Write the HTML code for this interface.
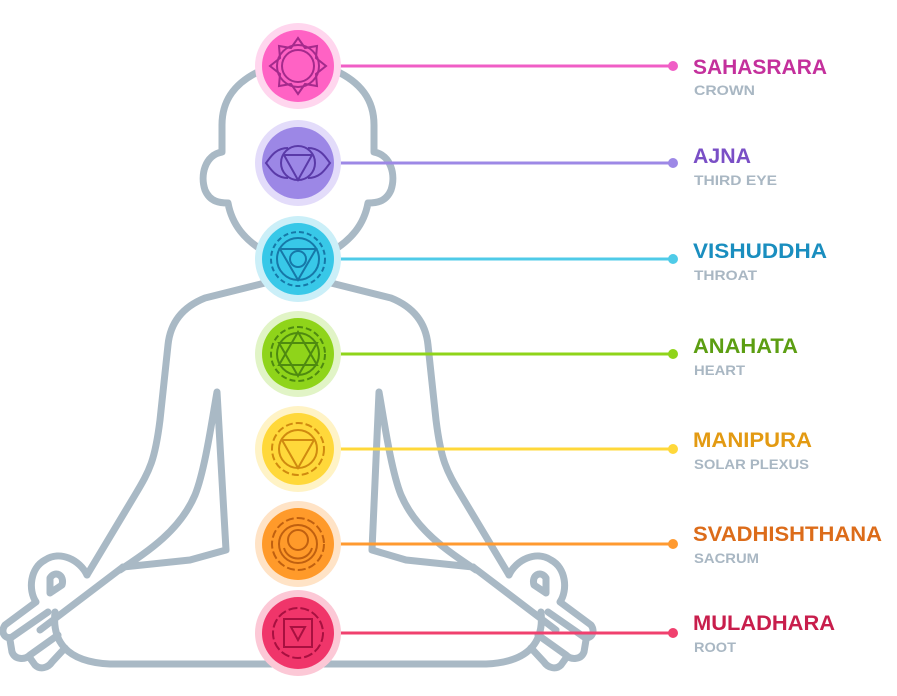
<!DOCTYPE html>
<html><head><meta charset="utf-8"><style>
html,body{margin:0;padding:0;background:#fff;width:897px;height:696px;overflow:hidden}
text{font-family:"Liberation Sans",sans-serif;font-weight:bold}
</style></head><body>
<svg width="897" height="696" viewBox="0 0 897 696" xmlns="http://www.w3.org/2000/svg">
<g fill="none" stroke="#a9b9c5" stroke-width="7" stroke-linecap="round" stroke-linejoin="round">
<path d="M262,70 C235,82 222,100 222,125 L222,152 C205,155 200,175 205,190 C210,202 220,203 228,203 C232,225 245,240 265,252"/>
<path d="M334,70 C361,82 374,100 374,125 L374,152 C391,155 396,175 391,190 C386,202 376,203 368,203 C364,225 351,240 331,252"/>
<path d="M265,283 L205,298 C180,308 170,325 168,345 L160,420 C155,460 150,470 135,495 L87,575"/>
<path d="M331,283 L391,298 C416,308 426,325 428,345 L436,420 C441,460 446,470 461,495 L509,575"/>
<path d="M217,392 L226,550 L190,560 L123,567 M217,392 C212,420 205,470 195,495 C180,530 150,550 120,570"/>
<path d="M379,392 L372,550 L406,560 L473,567 M379,392 C384,420 391,470 401,495 C416,530 446,550 476,570"/>
<path d="M123,567 L40,630 M55,612 C52,640 65,662 110,664 L486,664 C531,662 544,640 541,612 M473,567 L556,630"/>
<path d="M87,575 C80,560 60,550 45,560 C30,568 28,590 36,602 L5,625 C0,632 5,640 12,637 L48,612"/>
<path d="M10,640 L12,652 C15,660 25,660 30,655 L58,635 M30,658 L35,665 C40,670 48,668 52,662 L65,648"/>
<path d="M50,578 C55,570 65,575 62,585 L50,593 Z"/>
<path d="M509,575 C516,560 536,550 551,560 C566,568 568,590 560,602 L591,625 C596,632 591,640 584,637 L548,612"/>
<path d="M586,640 L584,652 C581,660 571,660 566,655 L538,635 M566,658 L561,665 C556,670 548,668 544,662 L531,648"/>
<path d="M546,578 C541,570 531,575 534,585 L546,593 Z"/>
</g>
<g stroke-width="3">
<line x1="298" y1="66" x2="673" y2="66" stroke="#f05ec6"/><circle cx="673" cy="66" r="5" fill="#f05ec6"/>
<line x1="298" y1="163" x2="673" y2="163" stroke="#9d88e6"/><circle cx="673" cy="163" r="5" fill="#9d88e6"/>
<line x1="298" y1="259" x2="673" y2="259" stroke="#4fcbe8"/><circle cx="673" cy="259" r="5" fill="#4fcbe8"/>
<line x1="298" y1="354" x2="673" y2="354" stroke="#8fd41a"/><circle cx="673" cy="354" r="5" fill="#8fd41a"/>
<line x1="298" y1="449" x2="673" y2="449" stroke="#ffd83a"/><circle cx="673" cy="449" r="5" fill="#ffd83a"/>
<line x1="298" y1="544" x2="673" y2="544" stroke="#ff9a30"/><circle cx="673" cy="544" r="5" fill="#ff9a30"/>
<line x1="298" y1="633" x2="673" y2="633" stroke="#f0406e"/><circle cx="673" cy="633" r="5" fill="#f0406e"/>
</g>
<g>
<circle cx="298" cy="66" r="43" fill="#ffd6ee"/><circle cx="298" cy="66" r="36" fill="#ff62c4"/>
<g fill="none" stroke="#a42a8c" stroke-width="2"><circle cx="298" cy="66" r="16"/><polygon points="298,38 305,48 317,46 316,58 326,66 316,74 317,86 305,84 298,94 291,84 279,86 280,74 270,66 280,58 279,46 291,48"/><circle cx="298" cy="66" r="21"/></g>
<circle cx="298" cy="163" r="43" fill="#e3dcfa"/><circle cx="298" cy="163" r="36" fill="#9c87e6"/>
<g fill="none" stroke="#5a3aa8" stroke-width="2"><circle cx="298" cy="163" r="17"/><polygon points="284,155 312,155 298,180"/><path d="M288,148 C275,148 270,158 266,163 C270,168 275,178 288,178 M308,148 C321,148 326,158 330,163 C326,168 321,178 308,178"/></g>
<circle cx="298" cy="259" r="43" fill="#cbeff8"/><circle cx="298" cy="259" r="36" fill="#38c8e8"/>
<g fill="none" stroke="#1678a8" stroke-width="2"><circle cx="298" cy="259" r="21"/><polygon points="280,249 316,249 298,280"/><circle cx="298" cy="259" r="8"/><circle cx="298" cy="259" r="27" stroke-dasharray="5 3"/></g>
<circle cx="298" cy="354" r="43" fill="#e1f4c6"/><circle cx="298" cy="354" r="36" fill="#8fd41a"/>
<g fill="none" stroke="#4e8a10" stroke-width="2"><circle cx="298" cy="354" r="21"/><polygon points="298,332 317,365 279,365"/><polygon points="298,376 317,343 279,343"/><circle cx="298" cy="354" r="27" stroke-dasharray="6 3"/></g>
<circle cx="298" cy="449" r="43" fill="#fff3c6"/><circle cx="298" cy="449" r="36" fill="#ffd83a"/>
<g fill="none" stroke="#d08a10" stroke-width="2"><circle cx="298" cy="449" r="19"/><polygon points="282,440 314,440 298,468"/><circle cx="298" cy="449" r="26" stroke-dasharray="7 3"/></g>
<circle cx="298" cy="544" r="43" fill="#ffe3c6"/><circle cx="298" cy="544" r="36" fill="#ff9a2a"/>
<g fill="none" stroke="#c06010" stroke-width="2"><circle cx="298" cy="544" r="19"/><circle cx="298" cy="540" r="10"/><path d="M284,548 C288,562 308,562 312,548"/><circle cx="298" cy="544" r="26" stroke-dasharray="8 3"/></g>
<circle cx="298" cy="633" r="43" fill="#fcc8d6"/><circle cx="298" cy="633" r="36" fill="#f0356a"/>
<g fill="none" stroke="#a81040" stroke-width="2"><rect x="284" y="619" width="28" height="28"/><polygon points="291,627 305,627 298,640"/><circle cx="298" cy="633" r="25" stroke-dasharray="9 3"/></g>
</g>
<g>
<text x="693" y="74" font-size="21" fill="#c4309c" textLength="134" lengthAdjust="spacingAndGlyphs">SAHASRARA</text>
<text x="694" y="95" font-size="14" fill="#a9b7c3" textLength="61" lengthAdjust="spacingAndGlyphs">CROWN</text>
<text x="693" y="163" font-size="21" fill="#7a4fc6" textLength="58" lengthAdjust="spacingAndGlyphs">AJNA</text>
<text x="694" y="185" font-size="14" fill="#a9b7c3" textLength="83" lengthAdjust="spacingAndGlyphs">THIRD EYE</text>
<text x="693" y="258" font-size="21" fill="#1a8ebf" textLength="134" lengthAdjust="spacingAndGlyphs">VISHUDDHA</text>
<text x="694" y="280" font-size="14" fill="#a9b7c3" textLength="63" lengthAdjust="spacingAndGlyphs">THROAT</text>
<text x="693" y="353" font-size="21" fill="#5c9e12" textLength="105" lengthAdjust="spacingAndGlyphs">ANAHATA</text>
<text x="694" y="375" font-size="14" fill="#a9b7c3" textLength="51" lengthAdjust="spacingAndGlyphs">HEART</text>
<text x="693" y="447" font-size="21" fill="#e39a12" textLength="119" lengthAdjust="spacingAndGlyphs">MANIPURA</text>
<text x="694" y="469" font-size="14" fill="#a9b7c3" textLength="115" lengthAdjust="spacingAndGlyphs">SOLAR PLEXUS</text>
<text x="693" y="541" font-size="21" fill="#dc6c1a" textLength="189" lengthAdjust="spacingAndGlyphs">SVADHISHTHANA</text>
<text x="694" y="563" font-size="14" fill="#a9b7c3" textLength="65" lengthAdjust="spacingAndGlyphs">SACRUM</text>
<text x="693" y="630" font-size="21" fill="#c81e4c" textLength="142" lengthAdjust="spacingAndGlyphs">MULADHARA</text>
<text x="694" y="652" font-size="14" fill="#a9b7c3" textLength="42" lengthAdjust="spacingAndGlyphs">ROOT</text>
</g>
</svg>
</body></html>
